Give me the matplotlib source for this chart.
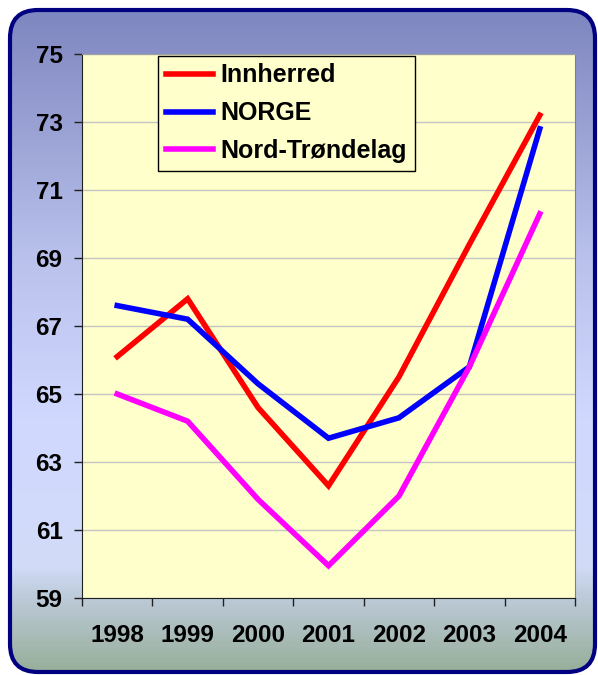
import numpy as np
import matplotlib
matplotlib.use("Agg")
import matplotlib.pyplot as plt
from matplotlib.patches import FancyBboxPatch
from matplotlib.colors import LinearSegmentedColormap

# data
years = ["1998", "1999", "2000", "2001", "2002", "2003", "2004"]
innherred = [66.1, 67.8, 64.6, 62.3, 65.5, 69.4, 73.2]
norge = [67.6, 67.2, 65.3, 63.7, 64.3, 65.8, 72.8]
nord_trondelag = [65.0, 64.2, 61.9, 59.95, 62.0, 65.8, 70.3]
yticks = [59, 61, 63, 65, 67, 69, 71, 73, 75]

plt.rcParams['font.family'] = ['Liberation Sans', 'DejaVu Sans']
plt.rcParams['font.weight'] = 'bold'

W, H = 598, 675
fig = plt.figure(figsize=(W / 100, H / 100), dpi=100)

# background: gradient inside a rounded navy frame
bg = fig.add_axes([0, 0, 1, 1], zorder=-5)
bg.set_xlim(0, W)
bg.set_ylim(H, 0)
bg.axis("off")
cmap = LinearSegmentedColormap.from_list("bg", [
    (0.0, "#7C84BE"), (0.40, "#BCC4EE"), (0.62, "#D0D8FF"),
    (0.84, "#D2DCF8"), (0.89, "#BCCAD8"), (1.0, "#96AE98")])
grad = np.linspace(0, 1, 300).reshape(-1, 1)
im = bg.imshow(grad, cmap=cmap, aspect="auto", extent=(0, W, H, 0))
frame = FancyBboxPatch((10, 10), 585, 662, boxstyle="round,pad=0,rounding_size=28",
                       facecolor="none", edgecolor="#000080", linewidth=3.0)
bg.add_patch(frame)
im.set_clip_path(frame)

ax = fig.add_axes([82 / W, 1 - 598 / H, (575 - 82) / W, (598 - 54) / H])
ax.set_facecolor("#FFFFCC")

x = np.arange(len(years))
ax.plot(x, innherred, color="#FF0000", lw=4, label="Innherred", solid_joinstyle="miter")
ax.plot(x, norge, color="#0000FF", lw=4, label="NORGE", solid_joinstyle="miter")
ax.plot(x, nord_trondelag, color="#FF00FF", lw=4, label="Nord-Trøndelag", solid_joinstyle="miter")

ax.set_ylim(59, 75)
ax.set_xlim(-0.5, len(years) - 0.5)
ax.set_yticks(yticks)
ax.set_yticklabels([str(v) for v in yticks], fontsize=17.5, fontweight="bold")
ax.yaxis.grid(True, color="#C4C4C4", lw=1)
ax.set_axisbelow(True)

ax.set_xticks(np.arange(-0.5, len(years)), labels=[""] * (len(years) + 1))
ax.set_xticks(x, labels=years, minor=True)
ax.tick_params(axis="x", which="major", direction="out", length=6, width=1, color="#202020")
ax.tick_params(axis="x", which="minor", length=0, pad=19, labelsize=17.5)
ax.tick_params(axis="y", direction="out", length=6, width=1, pad=8, color="#202020")
for lab in ax.get_xticklabels(minor=True):
    lab.set_fontweight("bold")

ax.spines["left"].set_color("#202020")
ax.spines["bottom"].set_color("#202020")
ax.spines["top"].set_color("#A0A0A0")
ax.spines["right"].set_color("#808080")

leg = ax.legend(loc="upper left", bbox_to_anchor=(158 / W, 1 - 56 / H),
                bbox_transform=fig.transFigure, borderaxespad=0,
                prop={"size": 18, "weight": "bold"}, handlelength=1.9,
                handletextpad=0.3, labelspacing=0.55, borderpad=0.3,
                fancybox=False, framealpha=1)
leg.get_frame().set_edgecolor("#000000")
leg.get_frame().set_facecolor("#FFFFCC")
leg.get_frame().set_linewidth(1)

fig.savefig("out.png", dpi=100)
